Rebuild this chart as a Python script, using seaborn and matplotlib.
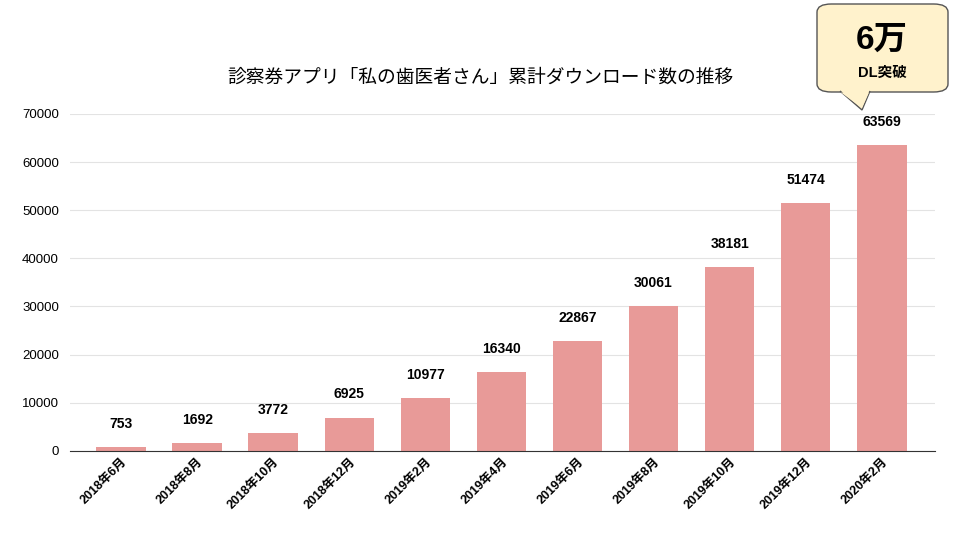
import matplotlib
matplotlib.use("Agg")
import matplotlib.pyplot as plt
import seaborn as sns
import pandas as pd
from matplotlib.patches import FancyBboxPatch, Polygon

months = ["2018年6月","2018年8月","2018年10月","2018年12月","2019年2月","2019年4月",
          "2019年6月","2019年8月","2019年10月","2019年12月","2020年2月"]
downloads = [753,1692,3772,6925,10977,16340,22867,30061,38181,51474,63569]
title = "診察券アプリ「私の歯医者さん」累計ダウンロード数の推移"

plt.rcParams["font.family"] = ["Liberation Sans", "Noto Sans CJK JP"]
df = pd.DataFrame({"month": months, "dl": downloads})
fig = plt.figure(figsize=(9.6, 5.4), dpi=100)
ax = fig.add_axes([0.073, 0.165, 0.901, 0.624])
sns.barplot(data=df, x="month", y="dl", color="#E89A98", saturation=1, width=0.65, ax=ax)
ax.set_xlim(-0.67, 10.7)
ax.set_ylim(0, 70000)
ax.set_yticks(range(0, 70001, 10000))
ax.yaxis.grid(True, color="#e3e3e3", lw=0.8)
ax.set_axisbelow(True)
for s in ["top", "right", "left"]:
    ax.spines[s].set_visible(False)
ax.spines["bottom"].set_color("#333333")
ax.tick_params(axis="y", length=0, labelsize=9.5, pad=8)
ax.tick_params(axis="x", length=0, labelsize=9)
plt.setp(ax.get_xticklabels(), rotation=45, ha="right", rotation_mode="anchor", fontweight="bold")
ax.set_xlabel(""); ax.set_ylabel("")
for i, v in enumerate(downloads):
    ax.text(i, v + 4800, str(v), ha="center", va="center", fontsize=10, fontweight="bold")
fig.text(0.5, 0.855, title, ha="center", va="center", fontsize=13.5)

# callout
fig.patches.append(FancyBboxPatch((817/960, 1-92/540), 131/960, 88/540,
    boxstyle="round,pad=0,rounding_size=0.015", transform=fig.transFigure,
    facecolor="#FFF2CC", edgecolor="#555555", lw=1))
fig.patches.append(Polygon([(840/960, 1-91/540), (862/960, 1-110/540), (870/960, 1-91/540)],
    closed=False, transform=fig.transFigure, facecolor="#FFF2CC", edgecolor="#555555", lw=1))
fig.patches.append(Polygon([(841/960, 1-92.5/540), (869/960, 1-92.5/540), (862/960, 1-108/540)],
    closed=True, transform=fig.transFigure, facecolor="#FFF2CC", edgecolor="none"))
fig.text(882/960, 1-40/540, "6万", ha="center", va="center", fontsize=24, fontweight="bold")
fig.text(882/960, 1-73/540, "DL突破", ha="center", va="center", fontsize=10.5, fontweight="bold")
fig.savefig("out.png", dpi=100)
